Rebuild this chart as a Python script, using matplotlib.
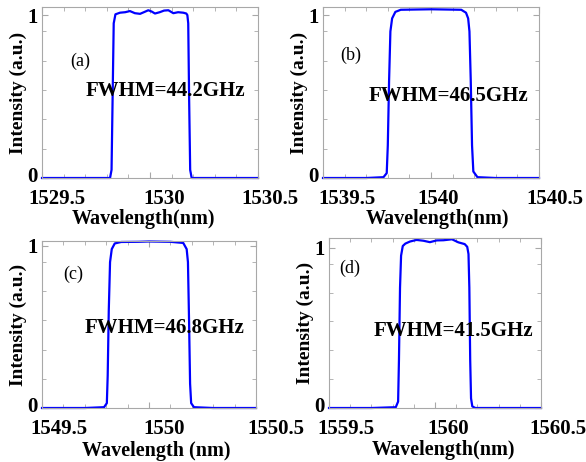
import numpy as np
import matplotlib.pyplot as plt
from matplotlib.ticker import FixedLocator
from matplotlib.transforms import ScaledTranslation

plt.rcParams['font.family'] = ['Liberation Serif', 'DejaVu Serif']

# measured filter passbands, wavelength in nm, normalised intensity
wl_a = [1529.50, 1529.70, 1529.815, 1529.822, 1529.827, 1529.832, 1529.840, 1529.861,
        1529.885, 1529.907, 1529.930, 1529.954, 1529.975, 1529.992, 1530.008, 1530.023,
        1530.045, 1530.065, 1530.085, 1530.108, 1530.130, 1530.154, 1530.168, 1530.173,
        1530.177, 1530.181, 1530.186, 1530.193, 1530.30, 1530.50]
int_a = [0.0, 0.0, 0.0, 0.05, 0.50, 0.95, 1.005, 1.015,
         1.018, 1.025, 1.012, 1.008, 1.020, 1.030, 1.022, 1.010,
         1.018, 1.028, 1.030, 1.012, 1.018, 1.015, 1.010, 1.0,
         0.95, 0.50, 0.05, 0.0, 0.0, 0.0]

wl_b = [1539.50, 1539.70, 1539.780, 1539.795, 1539.800, 1539.806, 1539.812, 1539.820,
        1539.835, 1539.860, 1539.950, 1540.000, 1540.050, 1540.140, 1540.162, 1540.172,
        1540.178, 1540.184, 1540.190, 1540.196, 1540.215, 1540.30, 1540.50]
int_b = [0.0, 0.0, 0.005, 0.03, 0.20, 0.60, 0.90, 0.98,
         1.020, 1.033, 1.035, 1.036, 1.035, 1.033, 1.015, 0.98,
         0.90, 0.60, 0.20, 0.04, 0.005, 0.0, 0.0]

wl_c = [1549.50, 1549.70, 1549.790, 1549.803, 1549.807, 1549.812, 1549.818, 1549.826,
        1549.840, 1549.870, 1549.950, 1550.000, 1550.050, 1550.100, 1550.160, 1550.176,
        1550.182, 1550.187, 1550.192, 1550.197, 1550.210, 1550.30, 1550.50]
int_c = [0.0, 0.0, 0.005, 0.03, 0.20, 0.60, 0.90, 0.98,
         1.015, 1.024, 1.025, 1.027, 1.026, 1.025, 1.018, 0.98,
         0.90, 0.55, 0.15, 0.03, 0.005, 0.0, 0.0]

wl_d = [1559.50, 1559.70, 1559.815, 1559.826, 1559.830, 1559.835, 1559.840, 1559.848,
        1559.860, 1559.882, 1559.913, 1559.945, 1559.976, 1560.008, 1560.040, 1560.080,
        1560.110, 1560.140, 1560.152, 1560.158, 1560.162, 1560.166, 1560.170, 1560.176,
        1560.190, 1560.30, 1560.50]
int_d = [0.0, 0.0, 0.005, 0.04, 0.30, 0.75, 0.95, 1.010,
         1.025, 1.038, 1.048, 1.043, 1.034, 1.045, 1.046, 1.052,
         1.033, 1.022, 1.005, 0.96, 0.75, 0.30, 0.06, 0.01,
         0.0, 0.0, 0.0]

centers = [1530, 1540, 1550, 1560]
fwhm = ['FWHM=44.2GHz', 'FWHM=46.5GHz', 'FWHM=46.8GHz', 'FWHM=41.5GHz']
tags = ['(a)', '(b)', '(c)', '(d)']
xlabels = ['Wavelength(nm)', 'Wavelength(nm)', 'Wavelength (nm)', 'Wavelength(nm)']

fig = plt.figure(figsize=(5.86, 4.62), dpi=100)
rects = [[42, 7, 216, 171], [323, 7, 216, 171], [42, 241, 214, 167], [329, 238, 212, 170]]
ytops = [1.05, 1.05, 1.03, 1.06]
tag_pos = [(0.175, 0.68), (0.13, 0.72), (0.145, 0.80), (0.10, 0.82)]
fwhm_pos = [(0.20, 0.51), (0.21, 0.48), (0.20, 0.48), (0.21, 0.45)]
xlab_pos = [(0.468, -0.24), (0.532, -0.24), (0.533, -0.26), (0.538, -0.245)]
# tick labels sit a little right of their ticks (pixels)
xtick_shift = [(15, 14, 12), (24, 7, 16), (17, 15, 20), (17, 13, 17)]
spectra = [(wl_a, int_a), (wl_b, int_b), (wl_c, int_c), (wl_d, int_d)]

W, H = 586, 462
frame = '#a8a8a8'
for i, (x, y) in enumerate(spectra):
    l, t, w, h = rects[i]
    ax = fig.add_axes([l / W, (H - t - h) / H, w / W, h / H])
    ax.plot(x, y, color='#0000ff', lw=1.6, clip_on=False)
    c = centers[i]
    ax.set_xlim(c - 0.5, c + 0.5)
    ax.set_ylim(0, ytops[i])
    ax.set_xticks([c - 0.5, c, c + 0.5])
    ax.set_xticklabels(['%g' % (c - 0.5), '%g' % c, '%g' % (c + 0.5)])
    ax.set_yticks([0, 1])
    ax.set_yticklabels(['0', '1'])
    ax.xaxis.set_minor_locator(FixedLocator(np.arange(c - 0.4, c + 0.45, 0.1)))
    ax.yaxis.set_minor_locator(FixedLocator([0.18, 0.36, 0.54, 0.72, 0.90]))
    ax.tick_params(which='both', direction='in', top=True, right=True, color=frame,
                   labelsize=15)
    ax.tick_params(axis='x', pad=8)
    ax.tick_params(axis='y', pad=3)
    ax.tick_params(which='major', length=4)
    ax.tick_params(which='minor', length=3)
    for lab, dx in zip(ax.get_xticklabels(), xtick_shift[i]):
        lab.set_transform(lab.get_transform() + ScaledTranslation(dx / 100, 0, fig.dpi_scale_trans))
    # lift the "0" a touch so it clears the wavelength labels
    zero = ax.get_yticklabels()[0]
    zero.set_transform(zero.get_transform() + ScaledTranslation(0, 4 / 100, fig.dpi_scale_trans))
    for lab in ax.get_xticklabels() + ax.get_yticklabels():
        lab.set_fontweight('bold')
    for s in ax.spines.values():
        s.set_color(frame)
        s.set_linewidth(0.8)
    ax.set_xlabel(xlabels[i], fontsize=14.5, fontweight='bold')
    ax.xaxis.set_label_coords(*xlab_pos[i])
    ax.xaxis.label.set_va('center')
    ax.set_ylabel('Intensity (a.u.)', fontsize=14, fontweight='bold', labelpad=0)
    ax.text(*tag_pos[i], tags[i], transform=ax.transAxes, fontsize=13,
            ha='center', va='center')
    ax.text(*fwhm_pos[i], fwhm[i], transform=ax.transAxes, fontsize=15,
            fontweight='bold', ha='left', va='center')

fig.savefig('out.png', dpi=100)
